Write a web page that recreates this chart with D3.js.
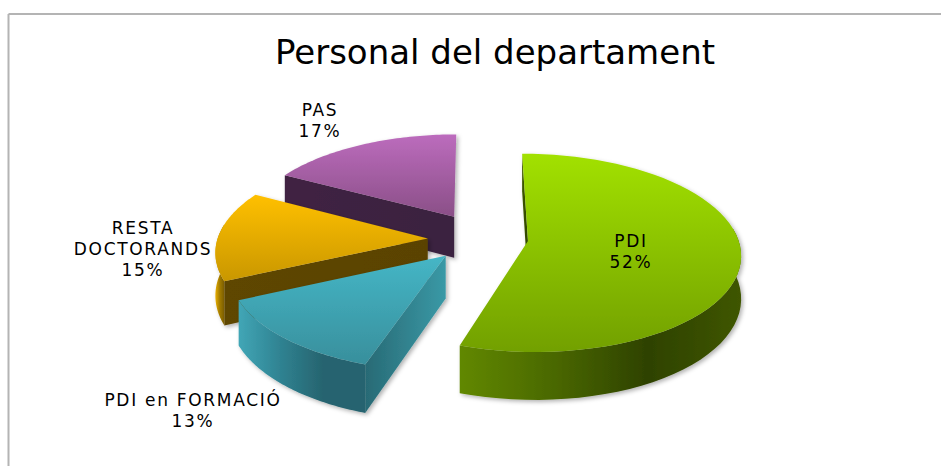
<!DOCTYPE html>
<html><head><meta charset="utf-8">
<script src="https://cdn.jsdelivr.net/npm/d3@7"></script>
<style>html,body{margin:0;padding:0;background:#fff}svg{display:block}text{font-family:"DejaVu Sans",Verdana,sans-serif;fill:#000}</style>
</head><body><svg id="c" width="941" height="466"></svg>
<script>
const categories = ["PDI", "PDI en FORMACIÓ", "RESTA DOCTORANDS", "PAS"];
const percents = [52, 13, 15, 17];
const titleText = "Personal del departament";
const labelLines = [["PDI"], ["PDI en FORMACIÓ"], ["RESTA", "DOCTORANDS"], ["PAS"]];
const labelAnchors = [[631, 242], [193, 401], [143, 229], [320, 111]];
const explodeU = [0.256, -0.132, -0.220, -0.097];
const explodeV = [-0.03, -0.178, -0.005, 0.225];
const topColors = [["#a2e102", "#72a000"], ["#45b6c6", "#388f9c"], ["#ffc000", "#c99700"], ["#bc6cbd", "#8a4f87"]];
const arcColors = [["#618800", "#4a6800", "#2e4200", "#3f5600"], ["#41a6b6", "#2f8291", "#27646f", "#27646f"], ["#e8ae00", "#a07a00", "#7a5c00"], ["#5d3560", "#5d3560"]];
const sideColors = [["#3f5800", "#2e4200"], ["#286a75", "#3a99a6"], ["#5e4600", "#5a4300"], ["#402443", "#3a2240"]];

const W = 941, H = 466;
const svg = d3.select("#c");
const defs = svg.append("defs");
const f = defs.append("filter").attr("id","sh").attr("x","-10%").attr("y","-10%").attr("width","125%").attr("height","125%");
f.append("feDropShadow").attr("dx",2).attr("dy",2).attr("stdDeviation",2).attr("flood-color","#000").attr("flood-opacity",0.3);

function grad(id, colors, horizontal){
  const g = defs.append("linearGradient").attr("id",id)
    .attr("x1",0).attr("y1",0).attr("x2",horizontal?1:0).attr("y2",horizontal?0:1);
  colors.forEach((c,i)=>g.append("stop").attr("offset",i/(colors.length-1)).attr("stop-color",c));
  return `url(#${id})`;
}

svg.append("line").attr("x1",8.5).attr("x2",W).attr("y1",14).attr("y2",14).attr("stroke","#b4b4b4").attr("stroke-width",2);
svg.append("line").attr("x1",8.5).attr("x2",8.5).attr("y1",14).attr("y2",H).attr("stroke","#b4b4b4").attr("stroke-width",2);

svg.append("text").attr("x",495).attr("y",64).attr("text-anchor","middle").attr("font-size",34).text(titleText);

// perspective projection from the unit pie plane to the screen
const cx = 474, cy = 238, Rx = 210, Ry = 97, k = 0.12, depth = 42;
const w = (v) => 1 + k*v;
const proj = (u,v) => [cx + Rx*u/w(v), cy - Ry*v/w(v)];
const drop = (v) => depth/w(v);
// the 3D rotation opens angles toward the viewer
const warp = (t) => t + (5.5*Math.PI/180)*(1-Math.cos(t))/2;

const arcs = d3.pie().sort(null).value(d=>d).startAngle(0).endAngle(2*Math.PI)(percents);
const order = [3,2,1,0];
const line = d3.line();

order.forEach(i=>{
  const a = arcs[i];
  const u0 = explodeU[i], v0 = explodeV[i];
  const P = t => [u0+Math.sin(warp(t)), v0+Math.cos(warp(t))];
  const ts = d3.range(0,61).map(j=>a.startAngle+(a.endAngle-a.startAngle)*j/60);
  const apexM = [u0,v0];
  const top = ([u,v])=>proj(u,v);
  const bot = ([u,v])=>{const p=proj(u,v);return [p[0],p[1]+drop(v)];};
  const A = top(apexM), rim = ts.map(P);
  const g = svg.append("g").attr("filter","url(#sh)");
  const p0 = top(rim[0]), p1 = top(rim[60]);
  const sideFill = grad("side"+i, sideColors[i], true);
  if (p0[0] < A[0]) g.append("path").attr("d",line([A,p0,bot(rim[0]),bot(apexM)])+"Z").attr("fill",sideFill);
  if (A[0] < p1[0]-8) g.append("path").attr("d",line([A,p1,bot(rim[60]),bot(apexM)])+"Z").attr("fill",sideFill);
  const front = rim.filter(([u,v])=>v<v0+0.15);
  if (front.length>1) g.append("path")
    .attr("d",line(front.map(top).concat(front.slice().reverse().map(bot)))+"Z")
    .attr("fill",grad("arc"+i,arcColors[i],true));
  g.append("path").attr("d",line([A].concat(rim.map(top)))+"Z").attr("fill",grad("top"+i,topColors[i],false));
});

categories.forEach((c,i)=>{
  const t = svg.append("text").attr("text-anchor","middle").attr("font-size",17).attr("letter-spacing",1.7);
  const [x,y] = labelAnchors[i];
  labelLines[i].concat([percents[i]+"%"]).forEach((s,j)=>{
    t.append("tspan").attr("x",x).attr("y",y+5+j*21).text(s);
  });
});
</script></body></html>
